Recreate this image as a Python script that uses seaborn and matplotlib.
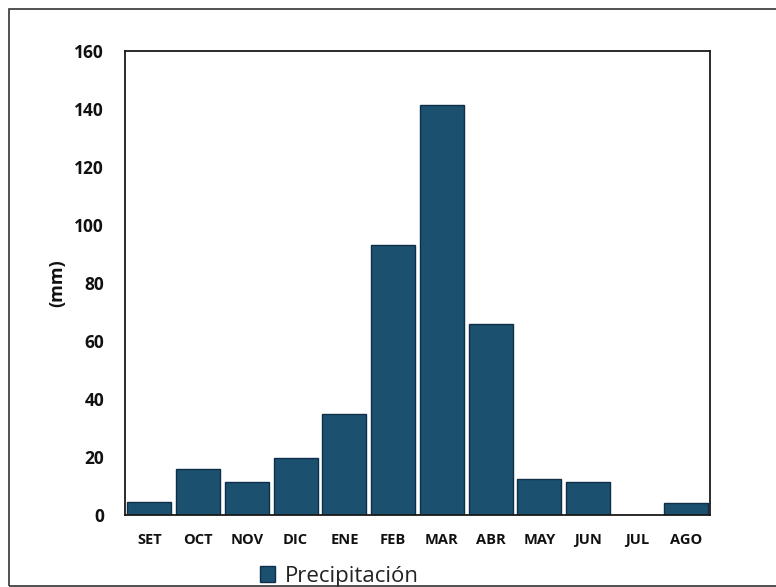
import matplotlib
matplotlib.use("Agg")
import matplotlib.pyplot as plt
from matplotlib.patches import Rectangle
import seaborn as sns
import pandas as pd

# Monthly precipitation (hydrological year, September to August)
meses = ["SET", "OCT", "NOV", "DIC", "ENE", "FEB", "MAR", "ABR", "MAY", "JUN", "JUL", "AGO"]
precipitacion = [4.5, 16, 11.5, 19.5, 35, 93, 141.5, 66, 12.5, 11.5, 0, 4]
y_ticks = [0, 20, 40, 60, 80, 100, 120, 140, 160]

df = pd.DataFrame({"mes": meses, "pp": precipitacion})

sns.set_theme(style="white")
plt.rcParams["font.family"] = ["Open Sans", "DejaVu Sans"]

fig = plt.figure(figsize=(7.76, 5.87), dpi=100)
ax = fig.add_axes([125 / 776, 1 - 515 / 587, 585 / 776, 464 / 587])

sns.barplot(data=df, x="mes", y="pp", order=meses, color="#1b506f",
            saturation=1, width=0.9, edgecolor="#0f2e48", linewidth=1.0,
            label="Precipitación", ax=ax)

ax.set_ylim(0, 160)
ax.set_xlim(-0.5, len(meses) - 0.5)
ax.set_yticks(y_ticks)
ax.set_yticklabels([str(v) for v in y_ticks], fontsize=12.5, fontweight="bold", color="#111111")
ax.set_xticks(range(len(meses)))
ax.set_xticklabels(meses, fontsize=10.5, fontweight="bold", color="#111111")
ax.tick_params(axis="y", length=0, pad=15)
ax.tick_params(axis="x", length=0, pad=13)
ax.set_xlabel("")
ax.set_ylabel("(mm)", fontsize=13, fontweight="bold", color="#111111", labelpad=6)

for s in ax.spines.values():
    s.set_visible(True)
    s.set_color("#1a1a1a")
    s.set_linewidth(1.3)

leg = ax.legend(loc="upper left", bbox_to_anchor=(244 / 776, 1 - 550 / 587),
                bbox_transform=fig.transFigure, frameon=False,
                handlelength=0.7, handleheight=0.7, handletextpad=0.45,
                borderpad=0.2, prop={"family": ["Open Sans", "DejaVu Sans"], "size": 16})
for t in leg.get_texts():
    t.set_color("#222222")

# Outer frame around the whole chart
fig.patches.append(Rectangle((9 / 776, 1 / 587), 1.2, 577 / 587, transform=fig.transFigure,
                             fill=False, edgecolor="#333333", linewidth=1.2))

fig.savefig("out.png", dpi=100)
